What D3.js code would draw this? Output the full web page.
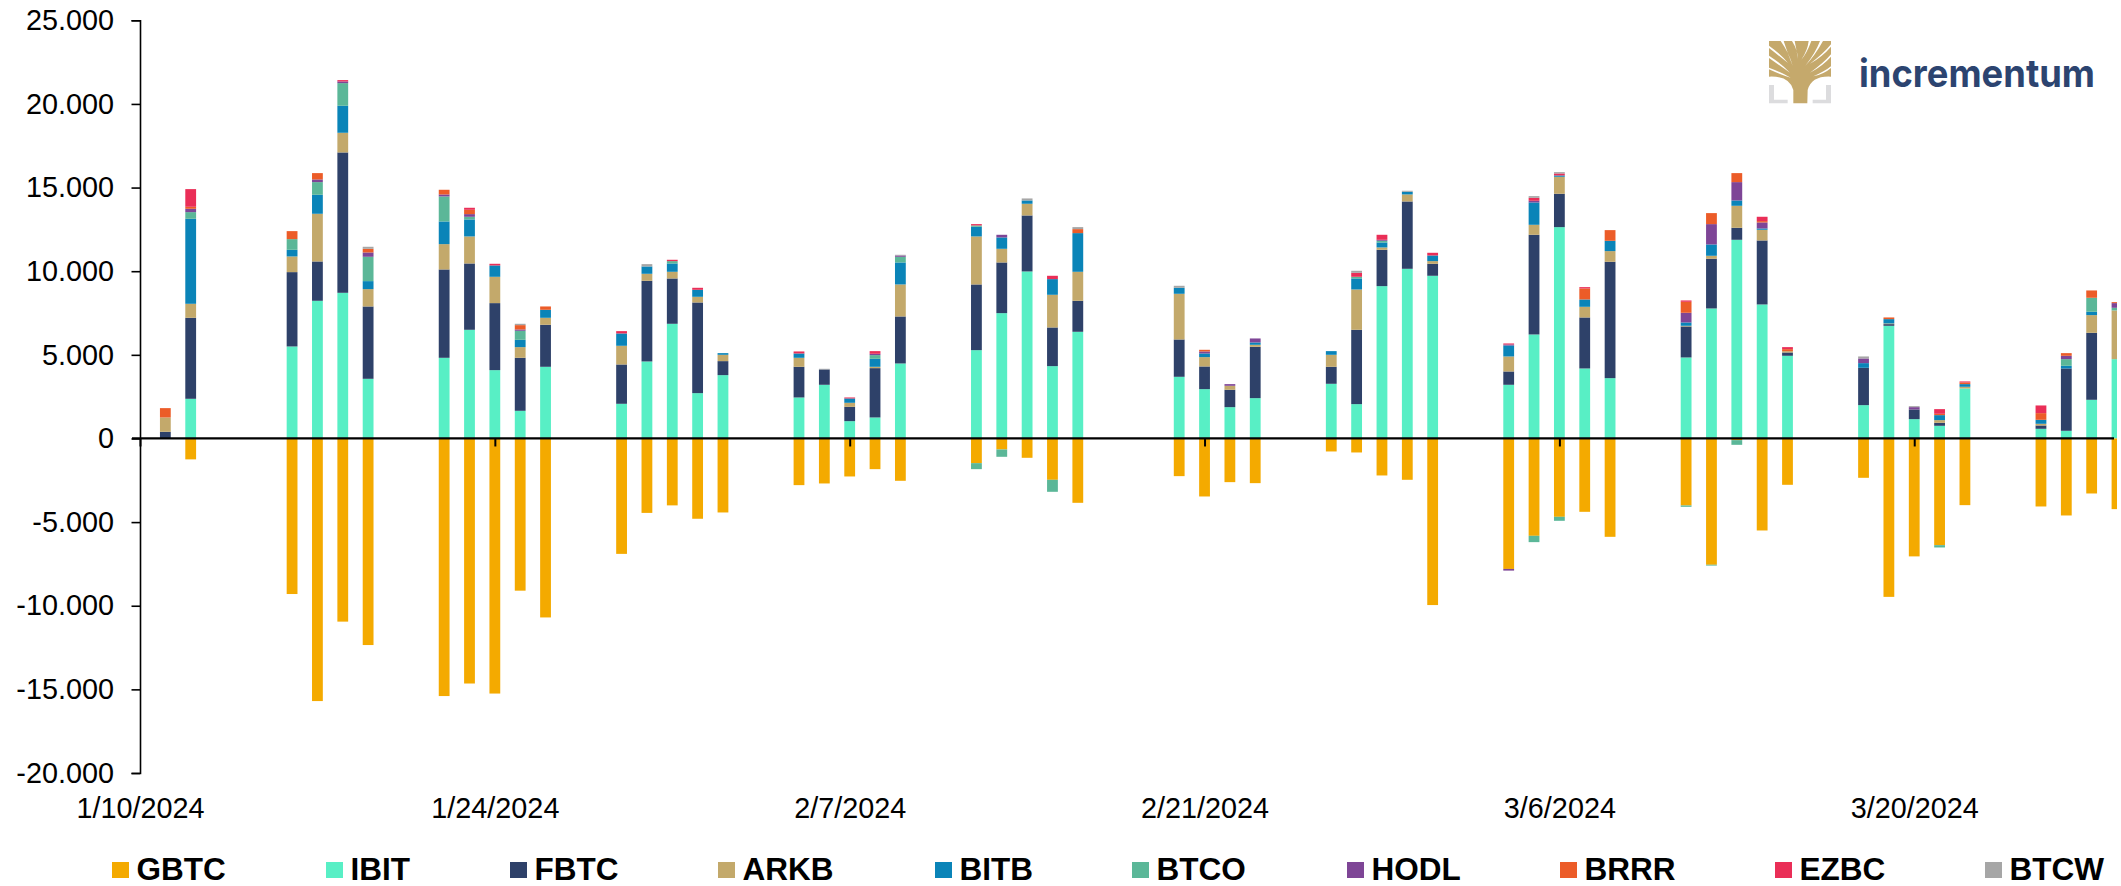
<!DOCTYPE html>
<html><head><meta charset="utf-8">
<script src="https://d3js.org/d3.v7.min.js"></script>
<style>
html,body{margin:0;padding:0;background:#fff;overflow:hidden}
svg{display:block}
text{font-family:"Liberation Sans",Arial,sans-serif;fill:#000}
</style></head><body><div id="c"></div>
<script>
const tickers=["GBTC","IBIT","FBTC","ARKB","BITB","BTCO","HODL","BRRR","EZBC","BTCW"];
const colors=["#F4AA00","#58EFC5","#2E4169","#C3A96B","#0A84B8","#5BB798","#7E4596","#EC5C28","#EA2E57","#A6A6A6"];
const dates=["2024-01-11","2024-01-12","2024-01-16","2024-01-17","2024-01-18","2024-01-19","2024-01-22","2024-01-23","2024-01-24","2024-01-25","2024-01-26","2024-01-29","2024-01-30","2024-01-31","2024-02-01","2024-02-02","2024-02-05","2024-02-06","2024-02-07","2024-02-08","2024-02-09","2024-02-12","2024-02-13","2024-02-14","2024-02-15","2024-02-16","2024-02-20","2024-02-21","2024-02-22","2024-02-23","2024-02-26","2024-02-27","2024-02-28","2024-02-29","2024-03-01","2024-03-04","2024-03-05","2024-03-06","2024-03-07","2024-03-08","2024-03-11","2024-03-12","2024-03-13","2024-03-14","2024-03-15","2024-03-18","2024-03-19","2024-03-20","2024-03-21","2024-03-22","2024-03-25","2024-03-26","2024-03-27","2024-03-28"];
const GBTC=[0,-1250,-9300,-15700,-10950,-12350,-15400,-14650,-15250,-9100,-10700,-6900,-4450,-4000,-4800,-4424,-2790,-2690,-2272,-1834,-2531,-1475,-658,-1156,-2471,-3847,-2252,-3468,-2611,-2671,-777,-837,-2212,-2471,-9960,-7800,-5820,-4684,-4385,-5880,-4006,-7550,-100,-5501,-2770,-2352,-9470,-7050,-6378,-3986,-4066,-4604,-3289,-4225];
const IBIT=[0,2372,5501,8231,8709,3567,4823,6497,4086,1654,4285,2073,4604,6856,2710,3787,2451,3209,1036,1256,4484,5281,7494,9985,4325,6378,3687,2950,1873,2412,3269,2053,9108,10144,9726,3209,6218,12636,4185,3607,4843,7773,11878,8012,4943,1993,6736,1156,757,2990,578,458,2312,4743];
const FBTC=[400,4843,4444,2352,8391,4325,5282,3966,4006,3169,2511,2351,4823,2710,5421,837,1834,917,857,2949,2810,3927,3029,3348,2312,1853,2232,1355,1037,3069,1016,4444,2172,4026,717,797,5959,1993,3050,6956,1854,2970,718,3826,199,2232,100,578,180,0,199,3727,4006,0];
const ARKB=[856,837,937,2850,1176,1037,1514,1615,1574,638,419,1117,418,399,339,378,538,0,240,80,1914,2870,817,698,1953,1734,2731,558,239,119,717,2412,140,419,160,897,598,1016,637,638,40,179,1315,638,80,0,40,0,159,100,100,0,1056,2910];
const BITB=[0,5082,398,1136,1614,478,1355,1016,678,438,478,737,439,498,419,100,259,0,259,478,1315,578,678,199,937,2312,358,219,0,140,220,657,299,159,338,657,1335,80,439,617,199,677,319,80,0,279,259,0,299,160,239,160,200,0];
const BTCO=[0,398,638,757,1355,1455,1495,159,0,538,0,0,0,140,0,0,0,0,0,220,339,79,0,0,0,0,0,0,0,0,0,100,99,0,0,0,0,0,0,0,0,0,0,0,0,0,0,0,0,0,0,398,837,160];
const BTCOneg=[0,0,0,0,0,0,0,0,0,0,0,0,0,0,0,0,0,0,0,0,0,-359,-438,0,-718,0,0,0,0,0,0,0,0,0,0,0,-378,-239,0,0,-80,-50,-280,0,0,0,0,0,-139,0,0,0,0,0];
const HODL=[0,200,0,160,100,259,120,160,0,80,0,0,0,0,0,0,0,0,0,79,79,0,159,0,0,0,0,120,100,239,0,0,60,0,0,60,100,0,0,0,578,1216,1096,359,0,279,0,139,0,0,0,200,0,279];
const HODLneg=[0,0,0,0,0,0,0,0,0,0,0,0,0,0,0,0,0,0,0,0,0,0,0,0,0,0,0,0,0,0,0,0,0,0,0,-100,0,0,0,0,0,0,0,0,0,0,0,0,0,0,0,0,0,0];
const BRRR=[558,119,478,378,0,219,279,259,0,259,199,0,0,0,0,0,0,0,0,0,0,0,0,0,0,239,0,99,0,0,0,0,0,0,0,0,0,0,658,638,657,658,538,80,119,0,100,0,80,100,399,159,438,59];
const EZBC=[0,1057,0,0,80,0,0,120,99,0,0,139,0,80,119,0,120,0,59,160,0,80,0,0,199,0,0,0,0,0,0,239,299,0,160,60,179,119,79,0,80,0,0,259,120,0,0,0,279,60,458,0,0,0];
const BTCW=[0,0,0,0,0,120,0,0,0,80,0,0,139,0,0,0,0,40,0,0,40,0,0,120,0,120,120,0,0,0,0,120,0,60,0,0,100,80,0,0,0,0,0,0,0,120,0,60,0,0,0,0,0,0];
const xTickLabels=["1/10/2024","1/24/2024","2/7/2024","2/21/2024","3/6/2024","3/20/2024"];
const xTickDates=["2024-01-10","2024-01-24","2024-02-07","2024-02-21","2024-03-06","2024-03-20"];
const yTicks=[-20000,-15000,-10000,-5000,0,5000,10000,15000,20000,25000];

const W=2121,H=886,FS=28.8;
const svg=d3.select("#c").append("svg").attr("width",W).attr("height",H);
const x=d3.scaleUtc().domain([new Date("2024-01-10"),new Date("2024-03-28")]).range([140,2117]);
const y=d3.scaleLinear().domain([-20000,25000]).range([773,20.3]);
const barW=10.8;
const loc=d3.formatLocale({decimal:",",thousands:".",grouping:[3],currency:["",""],minus:"-"});
const fmt=loc.format(",d");

svg.append("clipPath").attr("id","plot").append("rect").attr("x",x.range()[0]).attr("y",0).attr("width",x.range()[1]-x.range()[0]).attr("height",H);
const bars=svg.append("g").attr("clip-path","url(#plot)");

const posSeries=[["IBIT",IBIT,1],["FBTC",FBTC,2],["ARKB",ARKB,3],["BITB",BITB,4],["BTCO",BTCO,5],["HODL",HODL,6],["BRRR",BRRR,7],["EZBC",EZBC,8],["BTCW",BTCW,9]];
const negSeries=[["GBTC",GBTC,0],["BTCO",BTCOneg,5],["HODL",HODLneg,6]];
function draw(list){
  const rows=dates.map((d,i)=>{const o={date:new Date(d)};list.forEach(s=>o[s[0]]=s[1][i]);return o;});
  const st=d3.stack().keys(list.map(s=>s[0])).offset(d3.stackOffsetDiverging)(rows);
  st.forEach((layer,k)=>{
    bars.append("g").attr("fill",colors[list[k][2]]).selectAll("rect")
      .data(layer.filter(p=>p[0]!==p[1])).join("rect")
      .attr("x",p=>x(p.data.date)-barW/2).attr("width",barW)
      .attr("y",p=>y(Math.max(p[0],p[1])))
      .attr("height",p=>Math.abs(y(p[0])-y(p[1])));
  });
}
draw(posSeries);draw(negSeries);

const gy=svg.append("g").attr("transform","translate(140,0)")
  .call(d3.axisLeft(y).tickValues(yTicks).tickFormat(fmt).tickSize(8.5).tickPadding(17.5));
gy.selectAll("path,line").attr("stroke","#000").attr("stroke-width",1.6);
gy.selectAll("text").attr("font-size",FS).style("font-family",'"Liberation Sans",Arial,sans-serif');

const gx=svg.append("g").attr("transform",`translate(0,${y(0)})`)
  .call(d3.axisBottom(x).tickValues(xTickDates.map(d=>new Date(d))).tickFormat((d,i)=>xTickLabels[i]).tickSize(8).tickSizeOuter(0));
gx.select("path").attr("d","M132,0H2114").attr("stroke","#000").attr("stroke-width",2.2);
gx.selectAll("line").attr("stroke","#000").attr("stroke-width",2);
gx.selectAll("text").attr("y",818.3-y(0)).attr("dy",0).attr("font-size",FS).style("font-family",'"Liberation Sans",Arial,sans-serif');

const legendSwatchX=[112,326,510,718,935,1132,1347,1560,1775,1985];
const lg=svg.append("g").selectAll("g").data(tickers).join("g").attr("transform",(d,i)=>`translate(${legendSwatchX[i]},0)`);
lg.append("rect").attr("y",862).attr("width",17).attr("height",16).attr("fill",(d,i)=>colors[i]);
lg.append("text").attr("x",24.6).attr("y",880).attr("font-size",31.5).attr("font-weight",700).text(d=>d);

// logo (icon drawn at 3x in its own coordinates, then scaled)
const logo=svg.append("g");
const gold="#C5A96C",grey="#DCDCDE";
const icon=logo.append("g").attr("transform","translate(1760,35) scale(0.3333)");
icon.append("path").attr("fill",grey).attr("d","M27,150H42V194H83V205H27ZM213,150H198V194H158V205H213Z");
icon.append("path").attr("fill",gold).attr("d","M27,18H213V125Q155,122 143,165L142,205H100L100,165Q88,122 27,125Z");
const gaps=[
 [27,98,27,103,92,128],[27,62,27,69,90,113],[27,32,27,39,84,84],
 [62,18,71,18,98,92],[96,18,104,18,114,72],[146,18,154,18,124,74],[180,18,189,18,136,92],
 [213,28,213,35,150,86],[213,58,213,65,150,113],[213,94,213,99,160,124]];
icon.selectAll("path.g").data(gaps).join("path").attr("class","g").attr("fill","#fff")
 .attr("d",g=>{const cx=(g[0]+g[4])/2+((g[5]-g[1])>0?8:0),cy=(g[1]+g[5])/2+6;
   return `M${g[0]},${g[1]}Q${cx},${cy-6} ${g[4]},${g[5]}Q${cx-2},${cy+2} ${g[2]},${g[3]}Z`;});
logo.append("text").attr("x",1859).attr("y",86.5).attr("font-size",39).attr("textLength",236).attr("lengthAdjust","spacingAndGlyphs")
  .style("font-family","Inter,'Noto Sans',sans-serif").attr("font-weight",700).style("fill","#2C4470").text("incrementum");
</script></body></html>
